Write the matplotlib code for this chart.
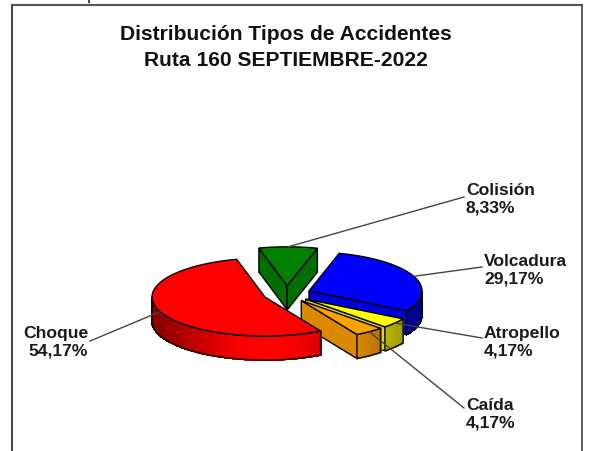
import numpy as np
import matplotlib
matplotlib.use('Agg')
import matplotlib.pyplot as plt
from matplotlib.patches import Polygon

# data, clockwise from the top
names = ['Colisión', 'Volcadura', 'Atropello', 'Caída', 'Choque']
percents = [8.33, 29.17, 4.17, 4.17, 54.17]
title_lines = ['Distribución Tipos de Accidentes', 'Ruta 160 SEPTIEMBRE-2022']

colors = [(0, .5, 0), (0, 0, 1), (1, 1, 0), (1, .63, 0), (1, 0, 0)]

# layout of the fake 3d pie, in pixels
cx, cy = 287, 295
rx, ry = 113, 39
depth = 24
explode = 0.21
start_angle = 104.5

# label anchor, leader end, alignment
label_xy = [(466, 199), (484, 270), (484, 342), (466, 414), (88, 342)]
leader_end = [(464, 198), (482, 268), (482, 339), (464, 409), (90, 342)]
label_ha = ['left', 'left', 'left', 'left', 'right']

plt.rcParams['font.family'] = ['Liberation Sans', 'DejaVu Sans']

fig = plt.figure(figsize=(5.9, 4.52), dpi=100)
ax = fig.add_axes([0, 0, 1, 1])
ax.set_xlim(0, 590)
ax.set_ylim(452, 0)
ax.axis('off')


def shade(col, k):
    return tuple(c * k for c in col)


def wall_shade(a):
    return 0.55 + 0.45 * abs(np.sin(a)) ** 3


def project(a, ox, oy, r=1.0, dz=0):
    return (ox + rx * r * np.cos(a), oy - ry * r * np.sin(a) + dz)


# slice angles
fr = np.array(percents) / sum(percents)
edges = np.radians(start_angle - 360 * np.concatenate([[0], np.cumsum(fr)]))
slices = []
for i in range(len(names)):
    a0, a1 = edges[i], edges[i + 1]
    mid = (a0 + a1) / 2
    ox = cx + explode * rx * np.cos(mid)
    oy = cy - explode * ry * np.sin(mid)
    slices.append((i, a0, a1, mid, ox, oy))


def draw_slice(i, a0, a1, mid, ox, oy, z):
    col = colors[i]
    arc = np.linspace(a0, a1, 90)
    # cut faces that look toward the viewer
    for a, normal in ((a0, a0 + np.pi / 2), (a1, a1 - np.pi / 2)):
        if np.sin(normal) < 0:
            p = project(a, ox, oy)
            q = project(a, ox, oy, dz=depth)
            ax.add_patch(Polygon([(ox, oy), p, q, (ox, oy + depth)], closed=True,
                                 fc=shade(col, 0.86), ec='black', lw=1, zorder=z))
    # outer wall, strip by strip for the gradient
    low = arc[np.sin(arc) <= 0]
    if len(low) > 1:
        for b0, b1 in zip(low[:-1], low[1:]):
            pts = [project(b0, ox, oy), project(b1, ox, oy),
                   project(b1, ox, oy, dz=depth), project(b0, ox, oy, dz=depth)]
            c = shade(col, wall_shade((b0 + b1) / 2))
            ax.add_patch(Polygon(pts, closed=True, fc=c, ec=c, lw=0.8,
                                 antialiased=False, zorder=z))
        outline = [project(b, ox, oy) for b in low] + \
                  [project(b, ox, oy, dz=depth) for b in low[::-1]]
        ax.add_patch(Polygon(outline, closed=True, fc='none', ec='black', lw=1, zorder=z))
    # top face
    top = [(ox, oy)] + [project(b, ox, oy) for b in arc]
    ax.add_patch(Polygon(top, closed=True, fc=col, ec='black', lw=1, zorder=z))


# back to front
draw_order = [1, 2, 3, 0, 4]
for z, idx in enumerate(draw_order):
    draw_slice(*slices[idx], z=2 + z)

# leader lines and labels
for i, mid, ox, oy in [(s[0], s[3], s[4], s[5]) for s in slices]:
    sx, sy = project(mid, ox, oy)
    ex, ey = leader_end[i]
    ax.plot([sx, ex], [sy, ey], color='#444444', lw=1, zorder=10)
    txt = names[i] + '\n' + ('%.2f' % percents[i]).replace('.', ',') + '%'
    ax.text(label_xy[i][0], label_xy[i][1], txt, ha=label_ha[i], va='center',
            multialignment=label_ha[i], fontsize=12.6, fontweight='bold',
            color='#1a1a1a', linespacing=1.2, zorder=11)

# title
ax.text(286, 34, title_lines[0], ha='center', va='center', fontsize=15.1, fontweight='bold', color='#111111')
ax.text(286, 60, title_lines[1], ha='center', va='center', fontsize=15.1, fontweight='bold', color='#111111')

# frame, open at the bottom
ax.plot([11.5, 11.5], [5.5, 452], color='#222222', lw=1.2)
ax.plot([11.5, 581.5], [5.5, 5.5], color='#555555', lw=1.5)
ax.plot([581.5, 581.5], [5.5, 452], color='#444444', lw=1.2)
ax.plot([88.5, 88.5], [0, 2.5], color='#444444', lw=1.5)

fig.savefig('out.png', dpi=100)
